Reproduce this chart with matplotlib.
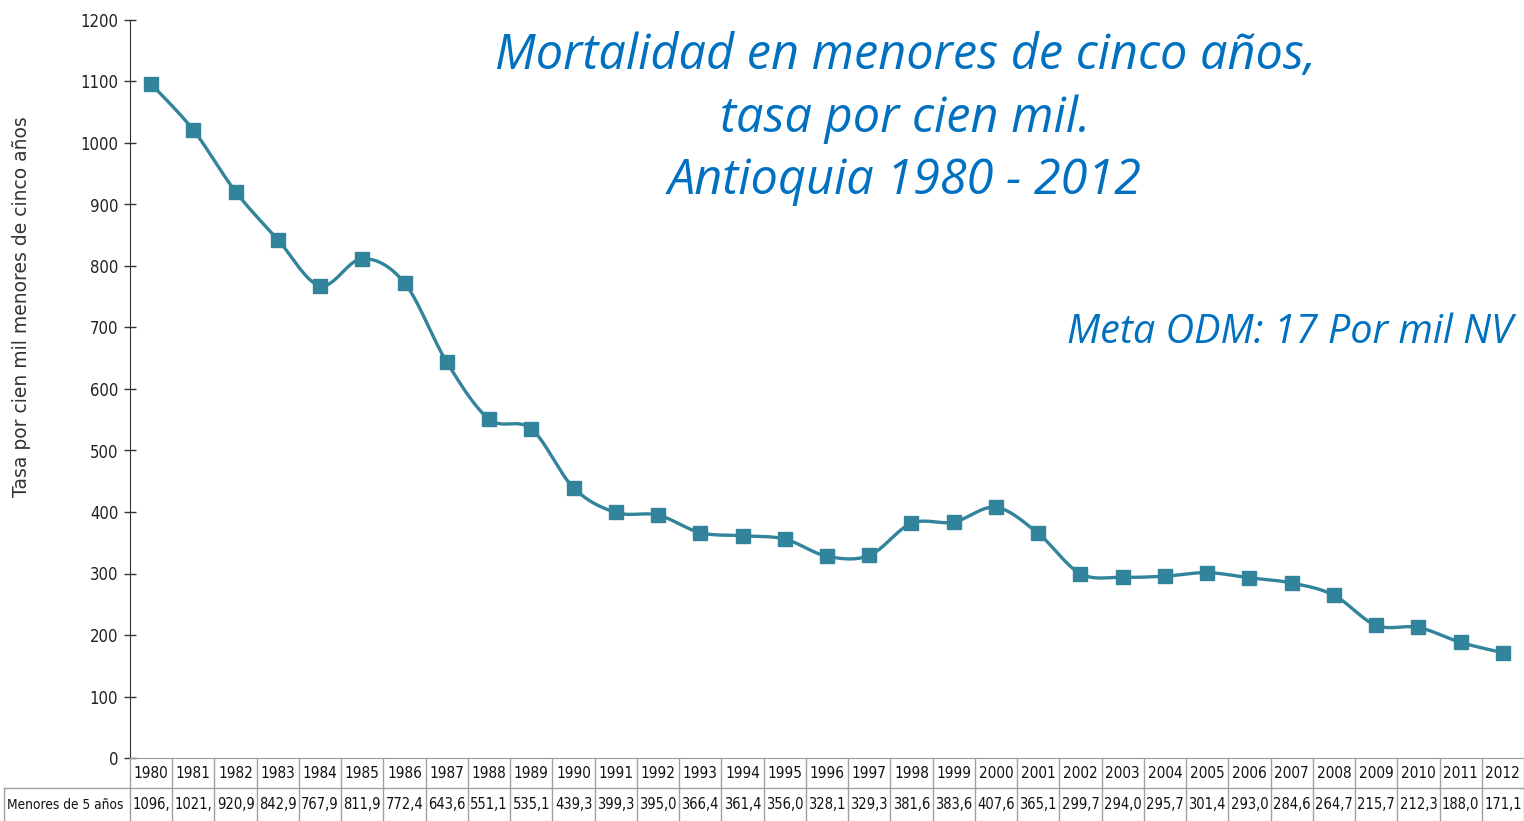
import matplotlib.pyplot as plt
import numpy as np

years = list(range(1980, 2013))
tasa = [1096.0, 1021.0, 920.9, 842.9, 767.9, 811.9, 772.4, 643.6, 551.1, 535.1,
        439.3, 399.3, 395.0, 366.4, 361.4, 356.0, 328.1, 329.3, 381.6, 383.6,
        407.6, 365.1, 299.7, 294.0, 295.7, 301.4, 293.0, 284.6, 264.7, 215.7,
        212.3, 188.0, 171.1]
row_label = "Menores de 5 años"

line_color = "#31849B"
blue = "#0070C0"
narrow = dict(family="DejaVu Sans", stretch="condensed")

W, H = 1524, 821
fig = plt.figure(figsize=(W / 100, H / 100), dpi=100)

# main axes
left, right, top, bottom = 130, 1524, 20, 758
ax = fig.add_axes([left / W, 1 - bottom / H, (right - left) / W, (bottom - top) / H])

x = np.arange(len(years), dtype=float)
y = np.array(tasa)


# smoothed line like a spreadsheet "smoothed line" (bezier through the points)
def smooth(xs, ys, n=30):
    px, py = [], []
    m = len(xs)
    for i in range(m - 1):
        x0, y0 = xs[i], ys[i]
        x1, y1 = xs[i + 1], ys[i + 1]
        xa, ya = (xs[i - 1], ys[i - 1]) if i > 0 else (x0, y0)
        xb, yb = (xs[i + 2], ys[i + 2]) if i + 2 < m else (x1, y1)
        c1x, c1y = x0 + (x1 - xa) / 6, y0 + (y1 - ya) / 6
        c2x, c2y = x1 - (xb - x0) / 6, y1 - (yb - y0) / 6
        t = np.linspace(0, 1, n)
        bx = (1 - t) ** 3 * x0 + 3 * (1 - t) ** 2 * t * c1x + 3 * (1 - t) * t ** 2 * c2x + t ** 3 * x1
        by = (1 - t) ** 3 * y0 + 3 * (1 - t) ** 2 * t * c1y + 3 * (1 - t) * t ** 2 * c2y + t ** 3 * y1
        px.append(bx)
        py.append(by)
    return np.concatenate(px), np.concatenate(py)


sx, sy = smooth(x, y)
ax.plot(sx, sy, color=line_color, lw=2.4, solid_capstyle="round")
ax.plot(x, y, ls="none", marker="s", ms=9.5, color=line_color)

ax.set_xlim(-0.5, len(years) - 0.5)
ax.set_ylim(0, 1200)
ax.set_yticks(range(0, 1201, 100))
ax.set_xticks([])
for s in ["top", "right"]:
    ax.spines[s].set_visible(False)
ax.spines["left"].set_color("#333333")
ax.spines["bottom"].set_color("#999999")
ax.tick_params(axis="y", direction="inout", length=9, width=1, color="#333333",
               labelsize=12, pad=4)
for lab in ax.get_yticklabels():
    lab.set_fontstretch("condensed")
    lab.set_color("#222222")

fig.text(22 / W, 1 - 307 / H, "Tasa por cien mil menores de cinco años", rotation=90,
         ha="center", va="center", fontsize=13.5, color="#333333")

# titles
fig.text(905 / W, 1 - 119 / H, "Mortalidad en menores de cinco años,\ntasa por cien mil.\nAntioquia 1980 - 2012",
         ha="center", va="center", fontsize=35, style="italic", color=blue,
         family=["Open Sans", "DejaVu Sans"], linespacing=1.35)
fig.text(1513 / W, 1 - 333 / H, "Meta ODM: 17 Por mil NV", ha="right", va="center",
         fontsize=28.5, style="italic", color=blue, family=["Open Sans", "DejaVu Sans"])

# data table under the axis
grid = "#A0A0A0"
tab = fig.add_axes([left / W, 0, (right - left) / W, (H - bottom) / H])
tab.set_xlim(-0.5, len(years) - 0.5)
tab.set_ylim(0, 63)
tab.axis("off")
mid = 33
for i in range(len(years) + 1):
    tab.plot([i - 0.5, i - 0.5], [0, 63], color=grid, lw=1, clip_on=False)
tab.plot([-0.5, len(years) - 0.5], [mid, mid], color=grid, lw=1, clip_on=False)
for i, (yr, v) in enumerate(zip(years, tasa)):
    tab.text(i, (63 + mid) / 2, str(yr), ha="center", va="center", fontsize=11,
             color="#111111", **narrow)
    s = f"{int(v)}," if v >= 1000 else f"{v:.1f}".replace(".", ",")
    tab.text(i, mid / 2, s, ha="center", va="center", fontsize=10.5,
             color="#111111", **narrow)

# row label cell
lab_ax = fig.add_axes([0, 0, left / W, (H - bottom) / H])
lab_ax.set_xlim(0, left)
lab_ax.set_ylim(0, 63)
lab_ax.axis("off")
lab_ax.plot([4, left], [mid, mid], color=grid, lw=1, clip_on=False)
lab_ax.plot([4, 4], [0, mid], color=grid, lw=1, clip_on=False)
lab_ax.text(7, mid / 2, row_label, ha="left", va="center", fontsize=9.8,
            color="#111111", **narrow)

plt.savefig("out.png", dpi=100)
